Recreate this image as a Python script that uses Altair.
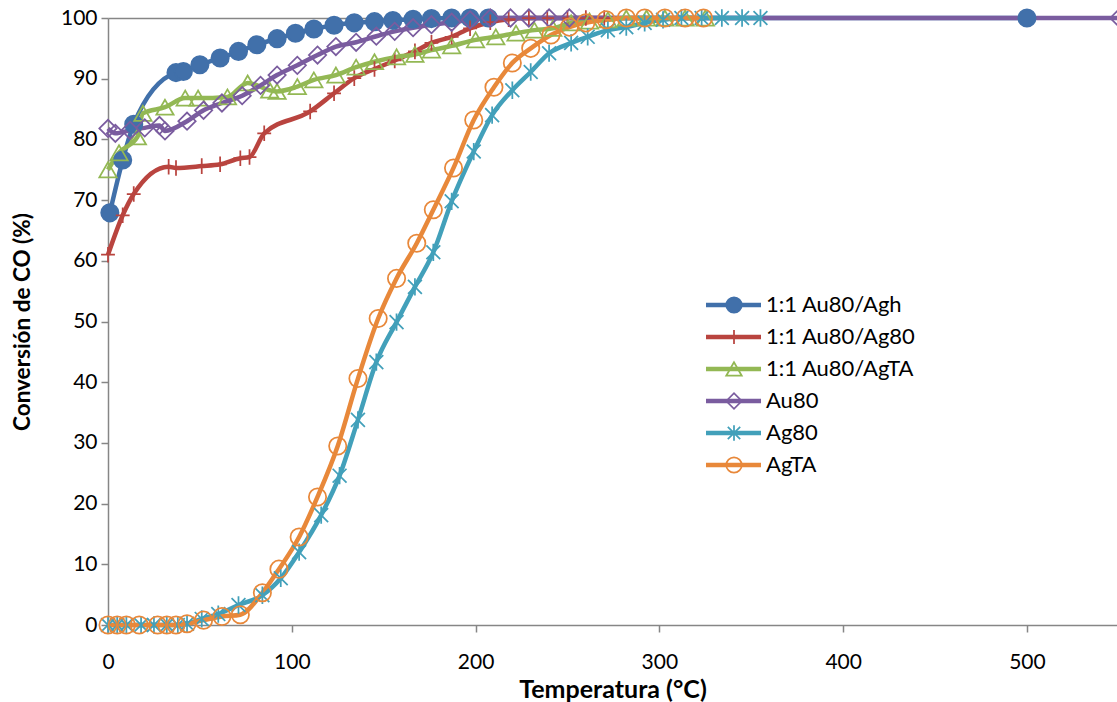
import altair as alt
import pandas as pd

# ---------------- data ----------------
names = ["1:1 Au80/Agh", "1:1 Au80/Ag80", "1:1 Au80/AgTA", "Au80", "Ag80", "AgTA"]

agh_x = [1, 8, 14, 37, 41, 50, 61, 71, 81, 92, 102, 112, 123, 134, 145, 155, 166, 176, 187, 197, 207, 500]
agh_y = [67.9, 76.6, 82.5, 91.0, 91.2, 92.3, 93.4, 94.5, 95.6, 96.6, 97.5, 98.2, 98.8, 99.2, 99.4, 99.6, 99.8, 99.9, 100, 100, 100, 100]

ag80mix_x = [0, 8, 14, 33, 37, 51, 61, 72, 77, 85, 110, 123, 134, 145, 156, 167, 176, 187, 197, 208, 218, 229, 239, 250, 260, 270]
ag80mix_y = [61.0, 67.5, 71.0, 75.5, 75.3, 75.6, 75.9, 76.9, 77.1, 81.0, 84.6, 87.6, 90.1, 91.6, 93.0, 94.5, 95.9, 96.9, 98.3, 99.3, 99.8, 100, 100, 100, 100, 100]

agtamix_x = [0, 6, 16, 19, 31, 42, 49, 65, 76, 88, 92, 103, 112, 124, 135, 145, 157, 167, 176, 187, 200, 211, 222, 232, 242, 252, 262, 272, 282, 293, 303, 314, 325]
agtamix_y = [75.0, 77.8, 80.4, 84.3, 85.3, 86.8, 86.8, 87.0, 89.3, 88.1, 87.9, 88.7, 89.8, 90.6, 91.9, 92.8, 93.6, 94.0, 94.7, 95.4, 96.4, 96.9, 97.5, 98.0, 98.3, 99.2, 99.5, 99.7, 100, 100, 100, 100, 100]

au80_x = [0, 4, 12, 20, 28, 31, 43, 52, 62, 73, 83, 92, 103, 114, 124, 135, 146, 156, 166, 176, 187, 197, 208, 219, 229, 240, 251, 550]
au80_y = [81.8, 81.0, 81.5, 81.9, 82.3, 81.4, 83.0, 84.8, 86.0, 87.2, 88.9, 90.6, 92.2, 93.9, 95.3, 96.0, 97.0, 97.8, 98.4, 98.9, 99.3, 99.7, 100, 100, 100, 100, 100, 100]

ag80_x = [0, 5, 10, 18, 25, 32, 38, 43, 51, 60, 71, 84, 94, 104, 116, 126, 136, 146, 157, 167, 177, 187, 199, 209, 220, 230, 240, 252, 261, 272, 282, 292, 302, 312, 323, 334, 345, 355]
ag80_y = [0, 0, 0, 0, 0, 0, 0, 0.2, 1.0, 1.8, 3.3, 4.9, 7.7, 12.0, 18.1, 24.6, 33.8, 43.3, 49.9, 55.7, 61.4, 69.8, 78.0, 84.0, 88.1, 91.1, 94.2, 95.9, 96.9, 98.0, 98.5, 99.2, 99.7, 100, 100, 100, 100, 100]

agta_x = [0, 5, 10, 17, 27, 32, 37, 43, 52, 62, 72, 84, 93, 104, 114, 125, 136, 147, 157, 168, 177, 188, 199, 210, 220, 230, 241, 251, 260, 271, 282, 292, 303, 314, 324]
agta_y = [0, 0, 0, 0, 0, 0, 0, 0.2, 0.8, 1.4, 1.7, 5.3, 9.2, 14.5, 21.1, 29.5, 40.6, 50.5, 57.1, 62.9, 68.4, 75.3, 83.2, 88.6, 92.6, 95.0, 97.2, 98.5, 99.2, 99.7, 100, 100, 100, 100, 100]

x_ticks = [0, 100, 200, 300, 400, 500]
y_ticks = [0, 10, 20, 30, 40, 50, 60, 70, 80, 90, 100]

# ---------------- styles ----------------
colors = ["#4170AA", "#B9443F", "#93B854", "#7A5C9F", "#42A0BA", "#E8883A"]
fills = ["#4170AA", "transparent", "transparent", "transparent", "transparent", "transparent"]
shapes = [
    "circle",
    "M-0.8,0H0.8M0,-0.9V0.9",
    "triangle-up",
    "diamond",
    "M-0.8,-0.8L0.8,0.8M-0.8,0.8L0.8,-0.8M0,-1V1",
    "circle",
]

series = [
    (agh_x, agh_y), (ag80mix_x, ag80mix_y), (agtamix_x, agtamix_y),
    (au80_x, au80_y), (ag80_x, ag80_y), (agta_x, agta_y),
]
rows = []
for k, (name, (xs, ys)) in enumerate(zip(names, series)):
    for xv, yv in zip(xs, ys):
        rows.append({"serie": name, "serie2": name, "t": xv, "c": yv, "k": k})
df = pd.DataFrame(rows)

FONT = "Lato"
GRAY = "#868686"


def pick(values):
    arr = "[" + ",".join("'" + v + "'" for v in values) + "]"
    keys = "[" + ",".join("'" + n + "'" for n in names) + "]"
    return arr + "[indexof(" + keys + ", datum.value)]"


x_enc = alt.X(
    "t:Q",
    scale=alt.Scale(domain=[0, 549], nice=False, zero=False),
    axis=alt.Axis(
        values=x_ticks, title="Temperatura (°C)", grid=False,
        domainColor=GRAY, domainWidth=1.5, tickColor=GRAY, tickWidth=1.5, tickSize=7,
        labelFont=FONT, labelFontSize=21, labelColor="black", labelPadding=19, labelFlush=False,
        titleFont=FONT, titleFontSize=25, titleFontWeight="bold", titleColor="black", titlePadding=5,
    ),
)
y_enc = alt.Y(
    "c:Q",
    scale=alt.Scale(domain=[0, 100], nice=False),
    axis=alt.Axis(
        values=y_ticks, title="Conversión de CO (%)", grid=True,
        gridColor={"condition": {"test": "datum.value === 100", "value": GRAY}, "value": "transparent"},
        gridWidth=1.5,
        domainColor=GRAY, domainWidth=1.5, tickColor=GRAY, tickWidth=1.5, tickSize=7,
        labelFont=FONT, labelFontSize=21, labelColor="black", labelPadding=4,
        titleFont=FONT, titleFontSize=22.5, titleFontWeight="bold", titleColor="black", titlePadding=26,
    ),
)

line_legend = alt.Legend(
    title=None, orient="none", legendX=595.5, legendY=271, padding=0,
    symbolType="stroke", symbolSize=3025, symbolStrokeWidth=4.5,
    labelFont=FONT, labelFontSize=22, labelColor="black", labelOffset=2.5,
    clipHeight=32, rowPadding=0,
)
point_legend = alt.Legend(
    title=None, orient="none", legendX=615, legendY=271, padding=0,
    symbolSize=240, symbolStrokeWidth=1.75, symbolOpacity=1,
    symbolFillColor={"expr": pick(fills)},
    symbolStrokeColor={"expr": pick(colors)},
    labelFont=FONT, labelFontSize=22, labelOpacity=0, labelOffset=2.5, labelExpr="' '",
    clipHeight=32, rowPadding=0,
)

lines = alt.Chart(df).mark_line(interpolate="monotone", strokeWidth=4.5).encode(
    x=x_enc, y=y_enc,
    color=alt.Color("serie:N", scale=alt.Scale(domain=names, range=colors), legend=line_legend),
)

points = alt.Chart(df).mark_point(size=300, strokeWidth=1.75, opacity=1).encode(
    x=x_enc, y=y_enc,
    stroke=alt.Stroke("serie2:N", sort=names, scale=alt.Scale(range=colors), legend=None),
    fill=alt.Fill("serie2:N", sort=names, scale=alt.Scale(range=fills), legend=None),
    shape=alt.Shape("serie2:N", sort=names, scale=alt.Scale(range=shapes), legend=point_legend),
    order=alt.Order("k:Q"),
)

chart = (
    alt.layer(lines, points)
    .properties(
        width=1009, height=607,
        padding={"left": 108, "top": 18, "right": 0, "bottom": 77},
        autosize="none", background="white",
    )
    .configure_view(stroke=None)
)

chart.save("out.html", embed_options={"renderer": "svg", "actions": False})
